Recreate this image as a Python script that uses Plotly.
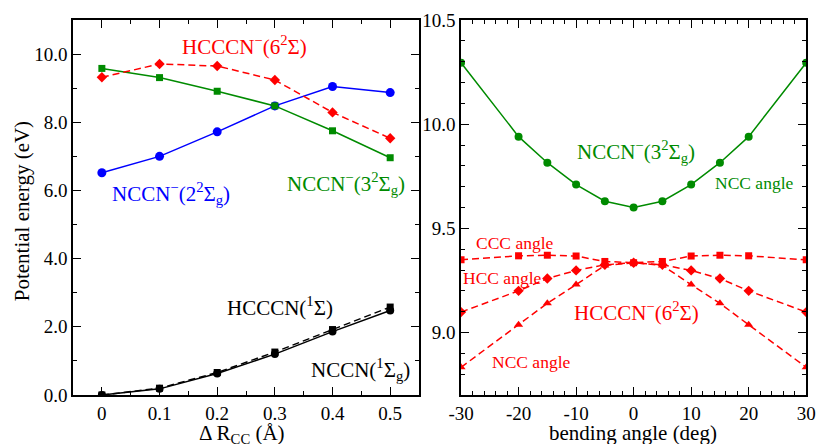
import plotly.graph_objects as go

# ---- data: left panel (Delta R_CC) ----
dr = [0.0, 0.1, 0.2, 0.3, 0.4, 0.5]
nccn_2sg = [6.52, 7.00, 7.72, 8.48, 9.05, 8.87]      # NCCN-(2 2Sigma_g)
nccn_3sg = [9.58, 9.31, 8.91, 8.48, 7.75, 6.96]      # NCCN-(3 2Sigma_g)
hcccn_6s = [9.32, 9.71, 9.65, 9.24, 8.29, 7.53]      # HCCCN-(6 2Sigma)
hcccn_1s = [0.0, 0.20, 0.66, 1.26, 1.92, 2.58]       # HCCCN(1Sigma)
nccn_1sg = [0.0, 0.18, 0.63, 1.20, 1.86, 2.48]       # NCCN(1Sigma_g)

# ---- data: right panel (bending angle) ----
ang = [-30, -20, -15, -10, -5, 0, 5, 10, 15, 20, 30]
nccn_3sg_ncc = [10.295, 9.94, 9.815, 9.71, 9.63, 9.60, 9.63, 9.71, 9.815, 9.94, 10.295]
hcccn_ccc = [9.349, 9.368, 9.371, 9.367, 9.341, 9.335, 9.341, 9.367, 9.371, 9.368, 9.349]
hcccn_hcc = [9.098, 9.20, 9.259, 9.298, 9.325, 9.335, 9.325, 9.298, 9.259, 9.20, 9.098]
hcccn_ncc = [8.833, 9.037, 9.14, 9.23, 9.322, 9.335, 9.322, 9.23, 9.14, 9.037, 8.833]

x_ticks_left = [0, 0.1, 0.2, 0.3, 0.4, 0.5]
x_ticklabels_left = ["0", "0.1", "0.2", "0.3", "0.4", "0.5"]
x_ticks_right = [-30, -20, -10, 0, 10, 20, 30]
x_ticklabels_right = ["-30", "-20", "-10", "0", "10", "20", "30"]

RED = "#ff0000"
GREEN = "#008b00"
BLUE = "#0000ff"
BLACK = "#000000"
FONT = "Times New Roman, Liberation Serif, DejaVu Serif, serif"
DASH = "7px,4px"

fig = go.Figure()

def add(x, y, color, symbol, dash, xa, ya, size=8):
    fig.add_trace(go.Scatter(
        x=x, y=y, mode="lines+markers", xaxis=xa, yaxis=ya,
        line=dict(color=color, width=1.5, dash=dash),
        marker=dict(color=color, symbol=symbol, size=size),
        showlegend=False, hoverinfo="skip"))

add(dr, nccn_2sg, BLUE, "circle", "solid", "x", "y", 9)
add(dr, nccn_3sg, GREEN, "square", "solid", "x", "y", 7)
add(dr, hcccn_6s, RED, "diamond", DASH, "x", "y", 8)
add(dr, hcccn_1s, BLACK, "square", DASH, "x", "y", 7)
add(dr, nccn_1sg, BLACK, "circle", "solid", "x", "y", 8)

add(ang, nccn_3sg_ncc, GREEN, "circle", "solid", "x2", "y2", 8)
add(ang, hcccn_ccc, RED, "square", DASH, "x2", "y2", 7)
add(ang, hcccn_hcc, RED, "diamond", DASH, "x2", "y2", 8)
add(ang, hcccn_ncc, RED, "triangle-up", DASH, "x2", "y2", 8)

axis_common = dict(
    showline=True, linecolor="black", linewidth=1.5, mirror="allticks",
    ticks="inside", ticklen=8, tickwidth=1.2, tickcolor="black",
    showgrid=False, zeroline=False, automargin=False,
    tickfont=dict(family=FONT, size=19, color="black"),
)

fig.update_layout(
    width=816, height=444,
    margin=dict(l=0, r=0, t=20, b=49, autoexpand=False),
    paper_bgcolor="white", plot_bgcolor="white",
    font=dict(family=FONT, color="black"),
    xaxis=dict(domain=[0.0895, 0.5135], range=[-0.05, 0.55],
               tickvals=x_ticks_left, ticktext=x_ticklabels_left,
               minor=dict(dtick=0.05, tick0=0, ticklen=4, ticks="inside", tickcolor="black", showgrid=False),
               anchor="y", **axis_common),
    yaxis=dict(domain=[0, 1], range=[0, 11], dtick=2, tick0=0, tickformat=".1f",
               minor=dict(dtick=1, tick0=0, ticklen=4, ticks="inside", tickcolor="black", showgrid=False),
               anchor="x", **axis_common),
    xaxis2=dict(domain=[0.565, 0.988], range=[-30, 30],
                tickvals=x_ticks_right, ticktext=x_ticklabels_right,
                minor=dict(dtick=2, tick0=0, ticklen=4, ticks="inside", tickcolor="black", showgrid=False),
                anchor="y2", **axis_common),
    yaxis2=dict(domain=[0, 1], range=[8.7, 10.5], dtick=0.5, tick0=9.0, tickformat=".1f",
                minor=dict(dtick=0.1, tick0=9.0, ticklen=4, ticks="inside", tickcolor="black", showgrid=False),
                anchor="x2", **axis_common),
)

def ann(text, x, y, color, size, xref="x", yref="y", angle=0):
    fig.add_annotation(text=text, x=x, y=y, xref=xref, yref=yref, showarrow=False,
                       font=dict(family=FONT, size=size, color=color),
                       xanchor="center", yanchor="middle", textangle=angle)

# left panel labels
ann("HCCCN<sup>−</sup>(6<sup>2</sup>Σ)", 0.248, 10.25, RED, 21)
ann("NCCN<sup>−</sup>(2<sup>2</sup>Σ<sub>g</sub>)", 0.12, 5.9, BLUE, 21)
ann("NCCN<sup>−</sup>(3<sup>2</sup>Σ<sub>g</sub>)", 0.423, 6.2, GREEN, 21)
ann("HCCCN(<sup>1</sup>Σ)", 0.309, 2.6, BLACK, 21)
ann("NCCN(<sup>1</sup>Σ<sub>g</sub>)", 0.448, 0.75, BLACK, 21)

# right panel labels
ann("NCCN<sup>−</sup>(3<sup>2</sup>Σ<sub>g</sub>)", 0.43, 9.87, GREEN, 21, "x2", "y2")
ann("NCC angle", 20.95, 9.716, GREEN, 17.5, "x2", "y2")
ann("CCC angle", -20.6, 9.428, RED, 17.5, "x2", "y2")
ann("HCC angle", -22.9, 9.26, RED, 17.5, "x2", "y2")
ann("HCCCN<sup>−</sup>(6<sup>2</sup>Σ)", 0.43, 9.10, RED, 21, "x2", "y2")
ann("NCC angle", -17.8, 8.86, RED, 17.5, "x2", "y2")

# axis titles
ann("Potential energy (eV)", 0.027, 0.49, BLACK, 21, "paper", "paper", -90)
ann("Δ R<sub>CC</sub> (Å)", 0.2966, -0.105, BLACK, 21, "paper", "paper")
ann("bending angle (deg)", 0.776, -0.1, BLACK, 21, "paper", "paper")

fig.write_html("out.html", config={"displayModeBar": False},
               post_script="document.body.style.margin='0px';")
